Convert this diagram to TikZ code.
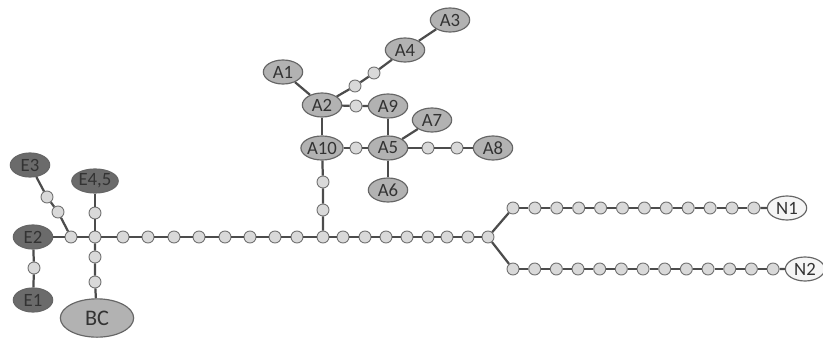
\documentclass[tikz,border=0pt]{standalone}
\usepackage{fontspec}
\setmainfont{Carlito}
\usetikzlibrary{shapes.geometric}

\begin{document}
\begin{tikzpicture}[
    x=0.03cm, y=-0.03cm,
    every node/.style={inner sep=0pt, font=\fontsize{16}{16}\selectfont, text=black!80},
    hap/.style={draw=black!60, line width=1pt, ellipse, fill=black!30, minimum width=1.18cm, minimum height=0.72cm},
    ehap/.style={hap, fill=black!58},
    nhap/.style={hap, fill=black!4},
    dot/.style={draw=black!55, line width=0.8pt, circle, fill=black!15, minimum size=0.36cm},
    edge/.style={draw=black!70, line width=1.9pt}
]
\useasboundingbox (0,0) rectangle (823,339);

% haplotypes
\node[hap] (A3) at (450,20) {A3};
\node[hap] (A4) at (405,50) {A4};
\node[hap] (A1) at (283,72) {A1};
\node[hap] (A2) at (322,105) {A2};
\node[hap] (A9) at (388,106) {A9};
\node[hap] (A7) at (432,120) {A7};
\node[hap] (A10) at (322,148) {A10};
\node[hap] (A5) at (388,148) {A5};
\node[hap] (A8) at (493,148) {A8};
\node[hap] (A6) at (388,190) {A6};
\node[ehap] (E3) at (30,165) {E3};
\node[ehap] (E45) at (95,181) {E4,5};
\node[ehap] (E2) at (33,237) {E2};
\node[ehap] (E1) at (33,300) {E1};
\node[hap, minimum width=2.2cm, minimum height=1.15cm, font=\fontsize{19}{19}\selectfont] (BC) at (97,318) {BC};
\node[nhap] (N1) at (787,208) {N1};
\node[nhap] (N2) at (805,269) {N2};

% missing steps
\node[dot] (k) at (71,237) {};
\node[dot] (j1) at (95,237) {};
\node[dot] (j2) at (323,237) {};
\node[dot] (j3) at (488,237) {};
\node[dot] (e3a) at (47,197) {};
\node[dot] (e3b) at (58,212) {};
\node[dot] (e1a) at (34,268) {};
\node[dot] (e4a) at (95,213) {};
\node[dot] (bc1) at (95,257) {};
\node[dot] (bc2) at (95,282) {};
\node[dot] (v1) at (323,210) {};
\node[dot] (v2) at (323,182) {};
\node[dot] (a29) at (356,106) {};
\node[dot] (a105) at (356,148) {};
\node[dot] (a24a) at (355,86) {};
\node[dot] (a24b) at (374,73) {};
\node[dot] (a58a) at (428,148) {};
\node[dot] (a58b) at (457,148) {};
\foreach \x [count=\i] in {123,148,174,199,225,250,275,297}
    \node[dot] (m\i) at (\x,237) {};
\foreach \x [count=\i] in {343,365,386,407,428,447,468}
    \node[dot] (r\i) at (\x,237) {};
\foreach \i in {1,...,12}
    \node[dot] (u\i) at ({513+(\i-1)*21.9},208) {};
\foreach \i in {1,...,13}
    \node[dot] (w\i) at ({513+(\i-1)*21.67},269) {};

% links
\draw[edge] (E3) -- (e3a) -- (e3b) -- (k);
\draw[edge] (E2) -- (k) -- (j1);
\draw[edge] (E2) -- (e1a) -- (E1);
\draw[edge] (E45) -- (e4a) -- (j1);
\draw[edge] (j1) -- (bc1) -- (bc2) -- (BC);
\draw[edge] (j1) -- (m1) (m8) -- (j2);
\foreach \i [count=\n from 2] in {1,...,7}
    \draw[edge] (m\i) -- (m\n);
\draw[edge] (j2) -- (r1) (r7) -- (j3);
\foreach \i [count=\n from 2] in {1,...,6}
    \draw[edge] (r\i) -- (r\n);
\draw[edge] (j2) -- (v1) -- (v2) -- (A10);
\draw[edge] (j3) -- (u1) (u12) -- (N1);
\foreach \i [count=\n from 2] in {1,...,11}
    \draw[edge] (u\i) -- (u\n);
\draw[edge] (j3) -- (w1) (w13) -- (N2);
\foreach \i [count=\n from 2] in {1,...,12}
    \draw[edge] (w\i) -- (w\n);
\draw[edge] (A10) -- (A2);
\draw[edge] (A10) -- (a105) -- (A5);
\draw[edge] (A2) -- (A1);
\draw[edge] (A2) -- (a29) -- (A9);
\draw[edge] (A2) -- (a24a) -- (a24b) -- (A4) -- (A3);
\draw[edge] (A9) -- (A5);
\draw[edge] (A5) -- (A7);
\draw[edge] (A5) -- (a58a) -- (a58b) -- (A8);
\draw[edge] (A5) -- (A6);
\end{tikzpicture}
\end{document}
